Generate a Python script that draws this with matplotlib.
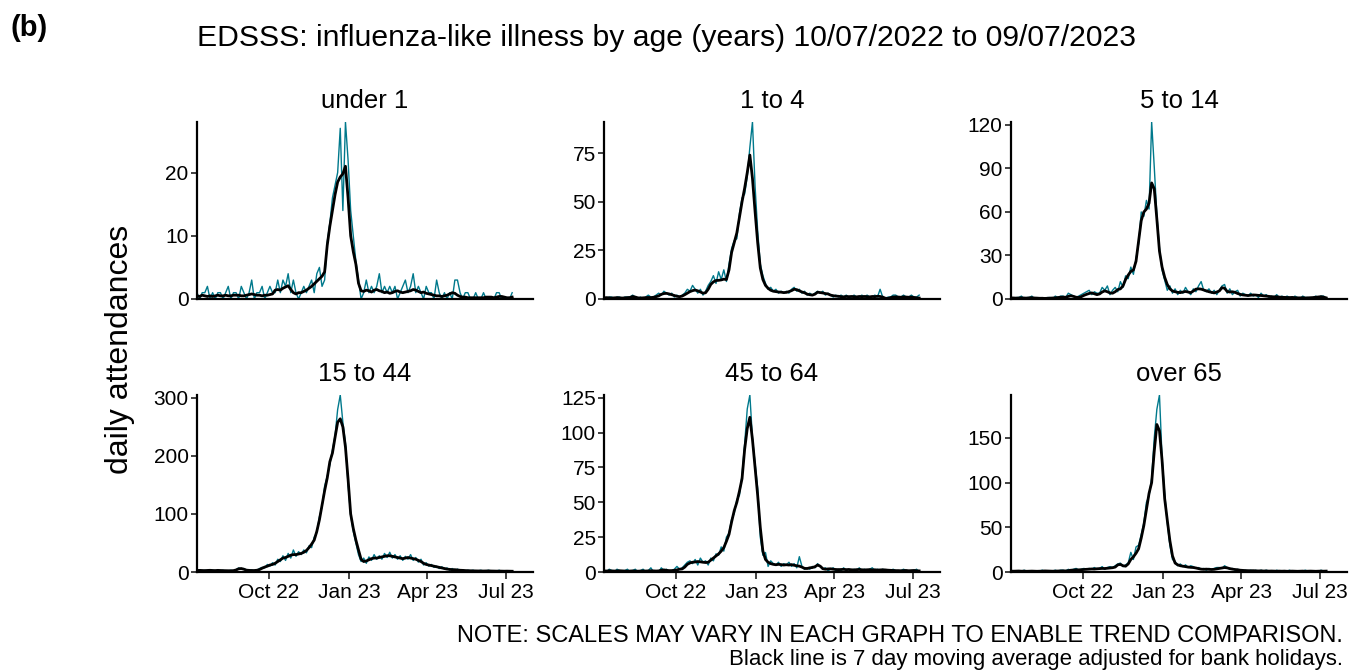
import matplotlib
matplotlib.use('Agg')
import matplotlib.pyplot as plt
import matplotlib.dates as mdates
import pandas as pd

plt.rcParams['font.family'] = ['Liberation Sans', 'DejaVu Sans']

# sampled every 3 days from 10/07/2022
dates = pd.date_range('2022-07-10', periods=122, freq='3D')

panels = ['under 1', '1 to 4', '5 to 14', '15 to 44', '45 to 64', 'over 65']

daily_u1 = [1, 0, 1, 1, 2, 0, 1, 0, 1, 1,
            0, 1, 2, 0, 1, 1, 0, 2, 1, 0,
            1, 3, 0, 1, 1, 2, 0, 1, 2, 1,
            1, 3, 1, 3, 2, 4, 1, 3, 1, 0,
            1, 2, 1, 2, 3, 1, 4, 5, 2, 3,
            9, 12, 16, 18, 20, 27, 14, 28, 22, 14,
            10, 6, 3, 0, 1, 3, 1, 2, 1, 2,
            4, 1, 2, 1, 2, 1, 2, 0, 1, 2,
            3, 1, 2, 4, 1, 2, 1, 0, 2, 1,
            1, 0, 3, 1, 0, 1, 0, 1, 0, 3,
            3, 1, 0, 1, 1, 0, 0, 1, 0, 0,
            1, 0, 0, 0, 0, 1, 1, 0, 0, 0,
            0, 1]
avg_u1 = [0.5, 0.4, 0.6, 0.5, 0.4, 0.5, 0.4, 0.5, 0.6, 0.5,
          0.5, 0.6, 0.5, 0.5, 0.6, 0.6, 0.6, 0.5, 0.5, 0.6,
          0.7, 0.8, 0.7, 0.6, 0.6, 0.5, 0.6, 0.6, 0.7, 0.8,
          1.4, 1.5, 1.4, 1.7, 1.9, 2.1, 1.5, 1.0, 0.8, 1.0,
          1.0, 1.2, 1.4, 1.7, 2.0, 2.4, 2.8, 3.2, 3.6, 4.3,
          8.5, 11.5, 14.0, 16.5, 18.5, 19.3, 19.8, 21.0, 16.0, 10.0,
          7.5, 5.5, 2.5, 1.3, 1.2, 1.4, 1.3, 1.1, 1.4, 1.5,
          1.3, 1.2, 1.0, 1.1, 0.9, 1.0, 1.2, 1.3, 1.1, 1.0,
          1.1, 1.2, 1.3, 1.5, 1.4, 1.2, 1.0, 1.1, 0.9, 0.8,
          0.7, 0.6, 0.5, 0.5, 0.4, 0.5, 0.6, 0.8, 1.0, 0.9,
          0.6, 0.4, 0.3, 0.3, 0.2, 0.2, 0.2, 0.2, 0.2, 0.2,
          0.2, 0.3, 0.3, 0.3, 0.2, 0.3, 0.4, 0.4, 0.3, 0.2,
          0.2, 0.3]

daily_1_4 = [1, 0, 1, 1, 0, 1, 1, 0, 1, 1,
             1, 2, 1, 0, 1, 0, 1, 2, 1, 1,
             2, 3, 2, 4, 3, 2, 3, 1, 2, 1,
             2, 3, 5, 4, 7, 5, 3, 5, 2, 4,
             7, 9, 12, 8, 14, 10, 15, 9, 18, 26,
             30, 31, 44, 52, 54, 63, 78, 91, 58, 35,
             18, 12, 8, 5, 6, 4, 5, 3, 4, 3,
             4, 3, 5, 6, 4, 5, 3, 4, 2, 3,
             2, 3, 4, 3, 4, 2, 3, 2, 1, 2,
             1, 2, 1, 2, 1, 1, 2, 1, 1, 2,
             1, 2, 1, 1, 2, 1, 5, 1, 0, 1,
             1, 2, 2, 1, 1, 2, 1, 1, 2, 1,
             1, 2]
avg_1_4 = [0.6, 0.7, 0.6, 0.5, 0.6, 0.7, 0.6, 0.5, 0.6, 0.7,
           0.8, 1.3, 1.0, 0.6, 0.5, 0.6, 0.7, 0.8, 0.7, 0.9,
           1.2, 1.6, 2.4, 2.8, 2.9, 2.6, 2.2, 1.8, 1.4, 1.2,
           1.5, 2.2, 3.0, 3.8, 4.3, 4.6, 4.2, 3.6, 3.0, 3.2,
           5.0, 7.5, 8.8, 9.5, 9.6, 9.8, 10.2, 10.0, 15.0, 24.0,
           29, 34, 42, 50, 57, 65, 74, 62, 45, 29,
           16, 10, 7.0, 5.5, 4.5, 4.0, 3.8, 3.6, 3.5, 3.3,
           3.4, 3.8, 4.3, 5.0, 4.8, 4.2, 3.6, 3.2, 2.5, 2.2,
           2.0, 2.5, 3.5, 3.3, 3.1, 2.8, 2.6, 2.0, 1.7, 1.5,
           1.4, 1.2, 1.1, 1.3, 1.2, 1.3, 1.2, 1.1, 1.3, 1.2,
           1.3, 1.2, 1.1, 1.3, 1.2, 1.4, 1.3, 1.0, 0.4, 0.3,
           0.7, 1.0, 1.1, 1.0, 0.9, 1.1, 1.0, 0.9, 1.0, 0.8,
           0.6, 0.5]

daily_5_14 = [1, 0, 1, 1, 2, 0, 1, 1, 2, 0,
              1, 0, 1, 0, 1, 1, 0, 2, 1, 2,
              2, 1, 4, 3, 2, 1, 2, 3, 4, 5,
              6, 3, 5, 4, 4, 8, 6, 9, 3, 6,
              8, 5, 12, 8, 16, 14, 22, 17, 28, 38,
              60, 57, 68, 62, 122, 91, 58, 35, 20, 13,
              6, 9, 4, 7, 3, 6, 4, 8, 5, 3,
              7, 5, 9, 12, 6, 5, 7, 4, 6, 3,
              6, 9, 10, 4, 7, 3, 5, 6, 2, 4,
              3, 2, 4, 2, 3, 1, 4, 2, 3, 1,
              2, 1, 3, 1, 2, 1, 2, 1, 0, 2,
              1, 0, 2, 1, 1, 0, 1, 2, 1, 2,
              2, 0]
avg_5_14 = [0.8, 0.7, 0.6, 0.7, 0.8, 0.7, 0.6, 0.8, 0.9, 0.7,
            0.6, 0.5, 0.5, 0.4, 0.5, 0.6, 0.7, 0.8, 1.0, 1.2,
            1.3, 1.2, 1.8, 2.2, 1.8, 1.2, 1.1, 1.6, 2.5, 3.2,
            3.8, 4.2, 3.6, 3.0, 3.5, 4.8, 5.6, 5.0, 4.2, 4.0,
            5.0, 6.5, 7.0, 9.0, 13.5, 16.5, 19.0, 20.0, 26.0, 40.0,
            54, 60, 62, 66, 80, 76, 55, 33, 22, 15,
            10, 7.0, 5.5, 5.0, 4.6, 4.4, 4.8, 5.2, 4.8, 4.4,
            5.5, 6.8, 7.0, 6.8, 6.2, 5.6, 5.0, 4.6, 4.2, 4.8,
            5.6, 7.8, 7.4, 5.2, 4.8, 5.0, 4.6, 3.8, 3.2, 2.8,
            2.6, 2.4, 2.6, 2.8, 2.7, 2.5, 2.4, 2.2, 2.0, 1.8,
            1.6, 1.5, 1.6, 1.3, 1.2, 1.1, 1.0, 1.0, 1.1, 0.9,
            0.8, 0.8, 0.9, 0.7, 0.8, 0.9, 1.0, 1.2, 1.4, 1.6,
            1.3, 0.8]

daily_15_44 = [2, 4, 1, 3, 2, 4, 3, 1, 3, 2,
               3, 1, 2, 3, 2, 4, 7, 5, 6, 3,
               2, 4, 1, 3, 6, 8, 7, 13, 10, 16,
               12, 22, 18, 28, 20, 32, 24, 38, 27, 35,
               30, 38, 33, 45, 42, 60, 68, 95, 112, 148,
               165, 185, 210, 235, 280, 305, 258, 222, 150, 98,
               70, 50, 30, 18, 24, 15, 26, 20, 30, 22,
               28, 22, 32, 25, 34, 24, 30, 22, 28, 20,
               27, 22, 30, 20, 25, 17, 22, 12, 16, 10,
               13, 8, 10, 6, 9, 5, 7, 3, 6, 2,
               5, 2, 4, 1, 3, 2, 3, 1, 2, 3,
               1, 2, 3, 1, 2, 1, 3, 1, 2, 1,
               2, 1]
avg_15_44 = [2.5, 2.8, 2.6, 2.4, 2.7, 2.9, 2.6, 2.5, 2.8, 2.6,
             2.4, 2.3, 2.2, 2.1, 2.4, 3.5, 5.5, 6.0, 4.8, 3.2,
             2.8, 2.5, 2.6, 3.0, 4.2, 6.5, 8.5, 10, 12, 13,
             15, 18, 21, 24, 25, 27, 29, 30, 30, 31,
             32, 34, 37, 42, 48, 55, 70, 90, 115, 140,
             162, 190, 205, 232, 258, 264, 250, 215, 160, 100,
             75, 55, 38, 22, 18, 19, 21, 23, 24, 24,
             25, 26, 27, 28, 28, 27, 26, 25, 24, 23,
             24, 25, 24, 23, 22, 20, 18, 15, 13, 12,
             11, 10, 9, 8, 7, 6, 5, 4.5, 4, 4,
             3.5, 3.0, 2.8, 2.5, 2.3, 2.1, 2.0, 1.9, 1.8, 1.8,
             1.7, 1.8, 1.9, 1.7, 1.6, 1.5, 1.6, 1.5, 1.4, 1.5,
             1.4, 1.3]

daily_45_64 = [1, 0, 2, 1, 0, 2, 1, 0, 1, 2,
               0, 1, 2, 0, 1, 2, 0, 1, 3, 0,
               1, 0, 3, 1, 2, 0, 1, 2, 4, 2,
               3, 5, 7, 8, 6, 9, 5, 10, 7, 8,
               5, 10, 8, 13, 12, 18, 15, 25, 28, 38,
               42, 52, 55, 70, 92, 117, 127, 96, 78, 60,
               25, 12, 14, 4, 8, 6, 5, 7, 4, 6,
               5, 7, 4, 6, 3, 11, 4, 2, 3, 2,
               4, 3, 6, 4, 2, 3, 1, 2, 3, 1,
               2, 1, 3, 1, 2, 0, 2, 1, 3, 1,
               2, 1, 2, 3, 1, 2, 1, 2, 1, 0,
               1, 2, 1, 0, 1, 2, 1, 0, 1, 1,
               2, 0]
avg_45_64 = [0.8, 0.7, 0.9, 0.8, 0.7, 0.8, 0.9, 0.8, 0.7, 0.6,
             0.7, 0.8, 0.7, 0.6, 0.7, 0.8, 0.7, 0.8, 0.9, 0.8,
             0.7, 0.8, 1.3, 1.5, 1.2, 1.0, 1.0, 1.2, 1.5, 2.0,
             2.2, 3.5, 5.5, 6.5, 7.0, 7.2, 7.5, 7.3, 7.0, 6.8,
             7.0, 8.5, 10, 11.5, 13, 15, 17.5, 22, 27, 36,
             44, 50, 58, 67, 88, 103, 111, 95, 75, 55,
             32, 15, 9, 7, 6, 5.5, 5.2, 5.5, 5.3, 5.0,
             5.2, 5.0, 5.3, 4.8, 4.5, 4.2, 3.5, 2.6, 2.5, 3.0,
             3.2, 3.8, 5.0, 4.2, 2.4, 2.0, 2.2, 2.3, 2.0, 1.8,
             1.7, 1.8, 1.9, 1.7, 1.8, 1.6, 1.5, 1.7, 1.8, 1.6,
             1.5, 1.6, 1.7, 1.5, 1.6, 1.4, 1.5, 1.6, 1.5, 1.3,
             1.2, 1.1, 1.0, 1.0, 0.9, 1.0, 1.1, 0.9, 1.0, 1.1,
             0.9, 0.8]

daily_65 = [2, 0, 1, 1, 0, 2, 1, 0, 1, 1,
            0, 1, 2, 1, 1, 0, 1, 2, 1, 2,
            2, 1, 3, 2, 3, 4, 2, 3, 4, 3,
            4, 3, 5, 3, 4, 6, 3, 5, 6, 5,
            7, 9, 10, 6, 8, 10, 22, 14, 28, 30,
            42, 55, 78, 85, 105, 150, 182, 198, 128, 88,
            55, 30, 14, 12, 7, 9, 6, 8, 5, 7,
            6, 4, 5, 3, 4, 2, 4, 3, 4, 5,
            5, 4, 7, 5, 3, 4, 2, 3, 2, 1,
            2, 1, 2, 1, 2, 0, 2, 1, 2, 1,
            1, 0, 2, 1, 1, 0, 1, 2, 0, 1,
            1, 0, 1, 2, 1, 0, 1, 1, 0, 2,
            1, 0]
avg_65 = [1.0, 0.9, 1.0, 1.1, 0.9, 1.0, 0.8, 0.9, 1.0, 0.9,
          0.8, 0.9, 1.0, 1.2, 1.1, 1.0, 0.9, 1.0, 1.1, 1.2,
          1.3, 1.2, 1.5, 2.0, 2.2, 2.5, 2.4, 2.6, 2.8, 3.0,
          3.2, 3.4, 3.3, 3.6, 3.8, 4.0, 3.9, 4.2, 4.5, 4.8,
          5.5, 8.0, 8.5, 7.0, 6.5, 9, 14, 17, 21, 26,
          38, 52, 70, 88, 100, 135, 165, 158, 125, 82,
          58, 35, 18, 10, 8, 7, 6.5, 6, 5.5, 5.2,
          5.0, 4.5, 3.8, 3.2, 3.0, 3.2, 3.0, 2.8, 3.0, 3.5,
          4.0, 4.5, 5.0, 4.6, 3.8, 3.2, 2.8, 2.5, 2.0, 1.8,
          1.6, 1.5, 1.4, 1.5, 1.3, 1.2, 1.3, 1.1, 1.2, 1.0,
          1.1, 1.0, 0.9, 1.0, 0.9, 1.0, 0.8, 0.9, 1.0, 0.9,
          0.8, 0.9, 1.0, 0.8, 0.9, 1.0, 0.9, 0.8, 0.9, 1.0,
          0.9, 1.0]

daily = [daily_u1, daily_1_4, daily_5_14, daily_15_44, daily_45_64, daily_65]
avg = [avg_u1, avg_1_4, avg_5_14, avg_15_44, avg_45_64, avg_65]
yticks = [[0, 10, 20], [0, 25, 50, 75], [0, 30, 60, 90, 120],
          [0, 100, 200, 300], [0, 25, 50, 75, 100, 125], [0, 50, 100, 150]]

teal = '#00798C'

fig = plt.figure(figsize=(13.5, 6.72), dpi=100)

lefts = [197, 604, 1011]
tops = [122, 395]
w, h = 336, 177

for k in range(6):
    r, c = divmod(k, 3)
    ax = fig.add_axes([lefts[c] / 1350, 1 - (tops[r] + h) / 672, w / 1350, h / 672])
    ax.plot(dates, daily[k], color=teal, lw=1.0)
    ax.plot(dates, avg[k], color='black', lw=2.0)
    ax.set_xlim(pd.Timestamp('2022-07-10'), pd.Timestamp('2023-08-01'))
    ax.set_ylim(0, max(daily[k]))
    ax.set_yticks(yticks[k])
    for s in ['top', 'right']:
        ax.spines[s].set_visible(False)
    for s in ['left', 'bottom']:
        ax.spines[s].set_linewidth(1.6)
        ax.spines[s].set_color('black')
    ax.tick_params(axis='y', length=4, width=1.3, color='#333333', labelsize=15, pad=2)
    ax.xaxis.set_major_locator(mdates.MonthLocator(bymonth=[1, 4, 7, 10]))
    ax.xaxis.set_major_formatter(mdates.DateFormatter('%b %y'))
    if r == 0:
        ax.tick_params(axis='x', length=0, labelbottom=False)
    else:
        ax.tick_params(axis='x', length=5, width=1.3, color='#333333', labelsize=15, pad=3)
    ax.set_title(panels[k], fontsize=18.5, pad=10)

fig.text(0.0215, 0.958, '(b)', fontsize=21, fontweight='bold', ha='center', va='center')
fig.text(0.494, 0.943, 'EDSSS: influenza-like illness by age (years) 10/07/2022 to 09/07/2023',
         fontsize=21.7, ha='center', va='center')
fig.text(0.089, 0.48, 'daily attendances', fontsize=23, rotation=90, ha='center', va='center')
fig.text(0.995, 0.054, 'NOTE: SCALES MAY VARY IN EACH GRAPH TO ENABLE TREND COMPARISON.',
         fontsize=17, ha='right', va='center')
fig.text(0.995, 0.018, 'Black line is 7 day moving average adjusted for bank holidays.',
         fontsize=16, ha='right', va='center')

fig.savefig('out.png', dpi=100, facecolor='white')
